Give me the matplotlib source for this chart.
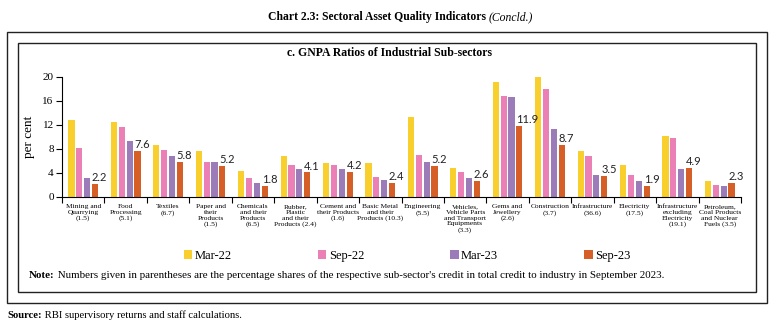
import matplotlib
matplotlib.use("Agg")
import matplotlib.pyplot as plt
from matplotlib.patches import Rectangle
import numpy as np

# data
sectors = [
    "Mining and\nQuarrying\n(1.5)",
    "Food\nProcessing\n(5.1)",
    "Textiles\n(6.7)",
    "Paper and\ntheir\nProducts\n(1.5)",
    "Chemicals\nand their\nProducts\n(6.5)",
    "Rubber,\nPlastic\nand their\nProducts (2.4)",
    "Cement and\ntheir Products\n(1.6)",
    "Basic Metal\nand their\nProducts (10.3)",
    "Engineering\n(5.5)",
    "Vehicles,\nVehicle Parts\nand Transport\nEquipments\n(3.3)",
    "Gems and\nJewellery\n(2.6)",
    "Construction\n(3.7)",
    "Infrastructure\n(36.6)",
    "Electricity\n(17.5)",
    "Infrastructure\nexcluding\nElectricity\n(19.1)",
    "Petroleum,\nCoal Products\nand Nuclear\nFuels (3.5)",
]
mar22 = [12.9, 12.5, 8.7, 7.6, 4.4, 6.8, 5.7, 5.7, 13.3, 4.9, 19.1, 20.0, 7.7, 5.3, 10.1, 2.6]
sep22 = [8.1, 11.7, 7.8, 5.8, 3.2, 5.4, 5.3, 3.4, 7.0, 4.1, 16.8, 18.0, 6.8, 3.6, 9.8, 2.0]
mar23 = [3.1, 9.3, 6.9, 5.8, 2.4, 4.7, 4.7, 2.9, 5.9, 3.2, 16.6, 11.4, 3.6, 2.7, 4.6, 1.8]
sep23 = [2.2, 7.6, 5.8, 5.2, 1.8, 4.1, 4.2, 2.4, 5.2, 2.6, 11.9, 8.7, 3.5, 1.9, 4.9, 2.3]
series_names = ["Mar-22", "Sep-22", "Mar-23", "Sep-23"]
colors = ["#F9CF2E", "#EA80B6", "#9C7BB9", "#D65F27"]

serif = ["Liberation Serif", "DejaVu Serif"]
plt.rcParams["font.family"] = serif

W, H = 773, 322
fig = plt.figure(figsize=(W / 100, H / 100), dpi=100)
ax = fig.add_axes([62 / W, 1 - 197 / H, (741 - 62) / W, (197 - 77) / H])

x = np.arange(len(sectors))
step = 0.185
bw = 0.145
all_series = [mar22, sep22, mar23, sep23]
bars = []
for i, vals in enumerate(all_series):
    b = ax.bar(x + (i - 1.5) * step, vals, width=bw, color=colors[i],
               label=series_names[i], zorder=2)
    bars.append(b)

# labels on latest series
for xi, v in zip(x, sep23):
    ax.text(xi + 1.5 * step - bw / 2, v + 0.15, f"{v:.1f}", ha="left", va="bottom",
            fontsize=8, family=["Lato", "DejaVu Sans"], color="#222222")

ax.set_xlim(-0.5, len(sectors) - 0.5)
ax.set_ylim(0, 20)
ax.set_yticks([0, 4, 8, 12, 16, 20])
ax.tick_params(axis="y", labelsize=8, length=4, width=0.8, pad=2)
ax.set_ylabel("per cent", fontsize=9.5, labelpad=5)

ax.set_xticks(np.arange(len(sectors) + 1) - 0.5)
ax.set_xticklabels([])
ax.set_xticks(x, minor=True)
ax.set_xticklabels(sectors, minor=True, fontsize=5.4, linespacing=1.2)
ax.tick_params(axis="x", which="major", length=4, width=0.8)
ax.tick_params(axis="x", which="minor", length=0, pad=5)
for s in ["top", "right"]:
    ax.spines[s].set_visible(False)
ax.spines["left"].set_linewidth(0.8)
ax.spines["bottom"].set_linewidth(0.8)

fig.legend(handles=bars, labels=series_names, loc="center", ncol=4,
           bbox_to_anchor=(407 / W, 1 - 256 / H), frameon=False, fontsize=9,
           handlelength=0.7, handleheight=0.7, handletextpad=0.2,
           columnspacing=6.85)

# boxes
fig.patches.append(Rectangle((7.5 / W, 1 - 302.5 / H), (767 - 7.5) / W, (302.5 - 31.5) / H,
                             transform=fig.transFigure, fill=False, lw=1.0, ec="#222222"))
fig.patches.append(Rectangle((17.5 / W, 1 - 291.5 / H), (756 - 17.5) / W, (291.5 - 42.5) / H,
                             transform=fig.transFigure, fill=False, lw=1.0, ec="#222222"))

# titles: bold part + italic part on one baseline
renderer = fig.canvas.get_renderer()
t1 = fig.text(268 / W, 1 - 20 / H, "Chart 2.3: Sectoral Asset Quality Indicators ",
              fontsize=8.4, fontweight="bold", ha="left", va="baseline")
x1 = t1.get_window_extent(renderer).x1
fig.text(x1 / W, 1 - 20 / H, "(Concld.)", fontsize=8.4, style="italic",
         ha="left", va="baseline")
fig.text(390 / W, 1 - 53 / H, "c. GNPA Ratios of Industrial Sub-sectors",
         fontsize=8.5, fontweight="bold", ha="center", va="center")

note = fig.text(29 / W, 1 - 278 / H, "Note:", fontsize=7.9, fontweight="bold",
                ha="left", va="baseline")
xn = note.get_window_extent(renderer).x1
fig.text(xn / W, 1 - 278 / H, " Numbers given in parentheses are the percentage shares of the "
         "respective sub-sector's credit in total credit to industry in September 2023.",
         fontsize=7.9, ha="left", va="baseline")
src = fig.text(7 / W, 1 - 318 / H, "Source:", fontsize=7.7, fontweight="bold",
               ha="left", va="baseline")
xs = src.get_window_extent(renderer).x1
fig.text(xs / W, 1 - 318 / H, " RBI supervisory returns and staff calculations.",
         fontsize=7.7, ha="left", va="baseline")

fig.savefig("out.png", dpi=100)
